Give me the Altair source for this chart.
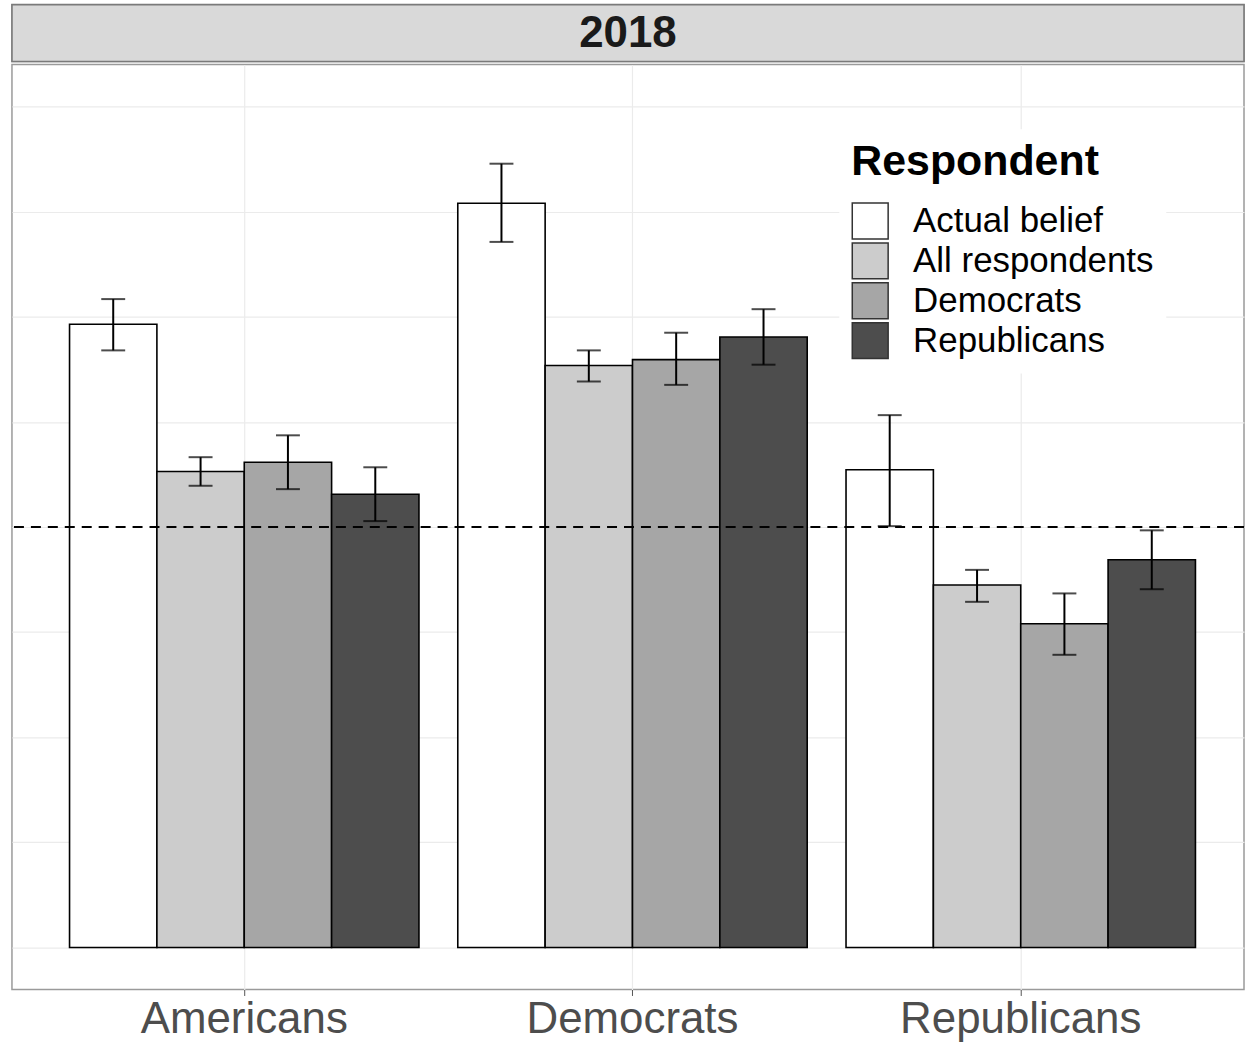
import altair as alt
import pandas as pd

# ---- data ----
targets = ["Americans", "Democrats", "Republicans"]
respondents = ["Actual belief", "All respondents", "Democrats", "Republicans"]
fill_colors = ["#FFFFFF", "#CCCCCC", "#A6A6A6", "#4D4D4D"]

target_col = ["Americans"] * 4 + ["Democrats"] * 4 + ["Republicans"] * 4
respondent_col = respondents * 3
means = [74.1, 56.6, 57.7, 53.9,
         88.5, 69.2, 69.9, 72.6,
         56.8, 43.1, 38.5, 46.1]
lower = [71.0, 54.9, 54.5, 50.7,
         83.9, 67.3, 66.9, 69.3,
         50.1, 41.1, 34.8, 42.6]
upper = [77.1, 58.3, 60.9, 57.1,
         93.2, 71.0, 73.1, 75.9,
         63.3, 44.9, 42.1, 49.6]
reference_line = 50
facet_label = "2018"
grid_values = [0, 12.5, 25, 37.5, 50, 62.5, 75, 87.5, 100]

df = pd.DataFrame({
    "target": target_col,
    "respondent": respondent_col,
    "mean": means,
    "lower": lower,
    "upper": upper,
})

W = 1236
H = 928
STRIP_H = 57

x = alt.X(
    "target:N",
    sort=targets,
    scale=alt.Scale(paddingInner=0, paddingOuter=0.0867, align=0.567),
    axis=alt.Axis(
        title=None, labelFontSize=44, labelColor="#4d4d4d", labelAngle=0,
        labelPadding=2, labelLimit=500, tickColor="#555555", tickSize=6, tickWidth=1,
        grid=True, gridColor="#ebebeb", gridWidth=1.2, bandPosition=0.5,
        domain=False,
    ),
)
xoff = alt.XOffset(
    "respondent:N", sort=respondents,
    scale=alt.Scale(paddingInner=0, paddingOuter=0.2222),
)
y_scale = alt.Scale(domain=[-5, 105], nice=False, zero=False)
y = alt.Y(
    "mean:Q", scale=y_scale,
    axis=alt.Axis(title=None, labels=False, ticks=False, domain=False,
                  values=grid_values, gridColor="#ebebeb", gridWidth=1.2),
)

base = alt.Chart(df)

bars = base.mark_bar(stroke="black", strokeWidth=1.6).encode(
    x=x,
    xOffset=xoff,
    y=y,
    y2=alt.datum(0),
    fill=alt.Fill(
        "respondent:N", sort=respondents,
        scale=alt.Scale(domain=respondents, range=fill_colors),
        legend=alt.Legend(title="Respondent"),
    ),
)

whisker = base.mark_rule(color="black", strokeWidth=2).encode(
    x=alt.X("target:N", sort=targets),
    xOffset=alt.XOffset("respondent:N", sort=respondents),
    y=alt.Y("lower:Q"),
    y2="upper:Q",
)
cap_lo = base.mark_tick(color="black", thickness=2, size=24, orient="horizontal").encode(
    x=alt.X("target:N", sort=targets),
    xOffset=alt.XOffset("respondent:N", sort=respondents),
    y=alt.Y("lower:Q"),
)
cap_hi = base.mark_tick(color="black", thickness=2, size=24, orient="horizontal").encode(
    x=alt.X("target:N", sort=targets),
    xOffset=alt.XOffset("respondent:N", sort=respondents),
    y=alt.Y("upper:Q"),
)

ref = alt.Chart(pd.DataFrame({"ref": [reference_line]})).mark_rule(
    color="black", strokeWidth=2, strokeDash=[10, 7]
).encode(y=alt.Y("ref:Q", scale=y_scale))

main = alt.layer(bars, whisker, cap_lo, cap_hi, ref).properties(width=W, height=H)

strip_df = pd.DataFrame({"label": [facet_label]})
strip_rect = alt.Chart(strip_df).mark_rect(
    fill="#d9d9d9", stroke="#7a7a7a", strokeWidth=1.6
).encode(
    x=alt.value(0), x2=alt.value(W), y=alt.value(0), y2=alt.value(STRIP_H)
)
strip_text = alt.Chart(strip_df).mark_text(
    fontSize=44, fontWeight="bold", color="#1a1a1a", align="center", baseline="middle"
).encode(text="label:N", x=alt.value(W / 2), y=alt.value(STRIP_H / 2 + 1))
strip = alt.layer(strip_rect, strip_text).properties(width=W, height=STRIP_H)

chart = alt.vconcat(strip, main, spacing=0).properties(
    padding={"left": 10, "top": 1, "right": 0, "bottom": 0}
).configure(
    font="Liberation Sans"
).configure_view(
    stroke="#9a9a9a", strokeWidth=1.5
).configure_legend(
    orient="none", legendX=830, legendY=125, fillColor="white", padding=12,
    titleFontSize=43, titleFontWeight="bold", titleColor="black", titlePadding=18,
    titleLimit=500,
    labelFontSize=35, labelColor="black", labelLimit=500, labelOffset=24,
    symbolType="square", symbolSize=1296, symbolStrokeColor="#333333",
    symbolStrokeWidth=1.5, symbolOpacity=1, rowPadding=-3,
)

chart.save("out.html", embed_options={"renderer": "svg", "actions": False})
